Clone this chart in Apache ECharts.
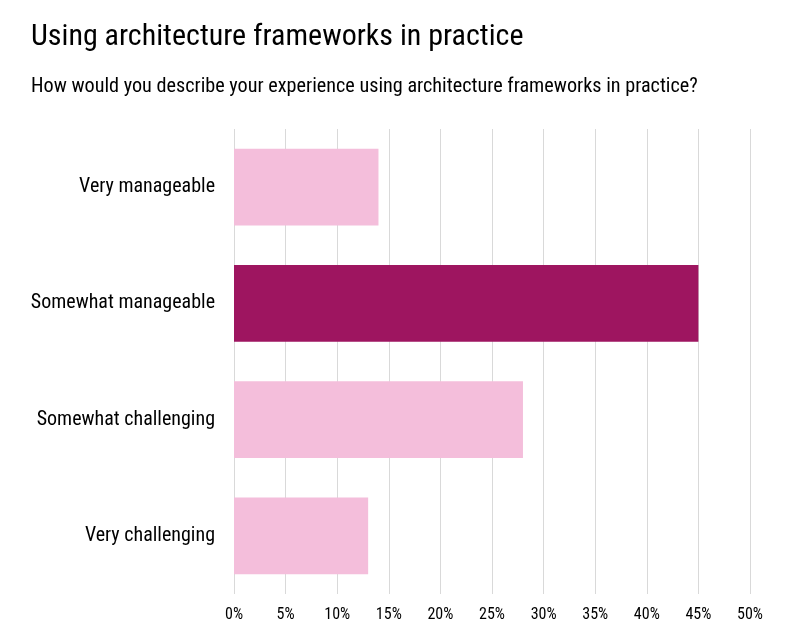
<!DOCTYPE html>
<html>
<head>
<meta charset="utf-8">
<script src="https://cdn.jsdelivr.net/npm/echarts@6/dist/echarts.min.js"></script>
<style>
html,body{margin:0;padding:0;background:#fff;}
#chart{width:789px;height:643px;}
</style>
</head>
<body>
<div id="chart"></div>
<script>
var titleText = 'Using architecture frameworks in practice';
var subtitleText = 'How would you describe your experience using architecture frameworks in practice?';
var categories = ['Very manageable', 'Somewhat manageable', 'Somewhat challenging', 'Very challenging'];
var values = [14, 45, 28, 13];
var highlightIndex = 1;
var FONT = "'Liberation Sans Narrow', 'Roboto Condensed', 'DejaVu Sans Condensed', 'Arial Narrow', sans-serif";

var chart = echarts.init(document.getElementById('chart'));
chart.setOption({
  backgroundColor: '#ffffff',
  animation: false,
  title: [
    { text: titleText, left: 31, top: 22, padding: 0,
      textStyle: { fontFamily: FONT, fontSize: 30, fontWeight: 'normal', color: '#000' } },
    { text: subtitleText, left: 31, top: 77, padding: 0,
      textStyle: { fontFamily: FONT, fontSize: 20.2, fontWeight: 'normal', color: '#000' } }
  ],
  grid: { left: 234, right: 39, top: 129, bottom: 49, containLabel: false },
  xAxis: {
    type: 'value', min: 0, max: 50, interval: 5,
    axisLine: { show: false }, axisTick: { show: false },
    splitLine: { show: true, lineStyle: { color: '#d9d9d9', width: 1 } },
    axisLabel: { formatter: '{value}%', margin: 13, fontFamily: FONT, fontSize: 16, color: '#000' }
  },
  yAxis: {
    type: 'category', data: categories, inverse: true,
    axisLine: { show: false }, axisTick: { show: false },
    axisLabel: { margin: 19, padding: [4, 0, 0, 0], fontFamily: FONT, fontSize: 20, color: '#000' }
  },
  series: [{
    type: 'bar',
    data: values.map(function (v, i) {
      return { value: v, itemStyle: { color: i === highlightIndex ? '#9e1560' : '#f4bedb' } };
    }),
    barCategoryGap: '34%'
  }]
});
</script>
</body>
</html>
